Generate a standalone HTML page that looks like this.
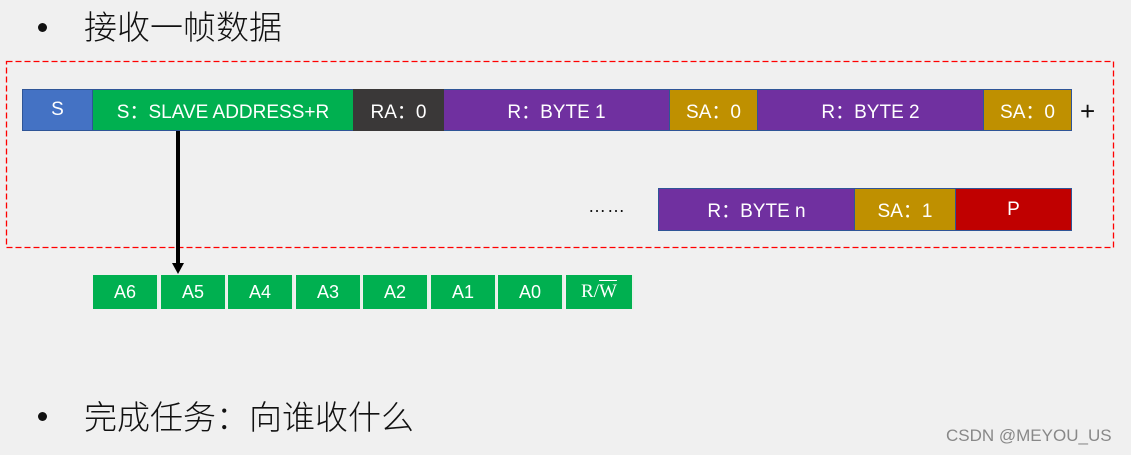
<!DOCTYPE html>
<html><head><meta charset="utf-8"><style>
body{margin:0;width:1131px;height:455px;background:#f0f0f0;position:relative;overflow:hidden;font-family:"Liberation Sans","Noto Sans CJK SC",sans-serif}
.a{position:absolute}
.b{position:absolute;color:#fff;font-size:19px;display:flex;align-items:center;justify-content:center;box-sizing:border-box}
.t{position:absolute;font-size:33px;color:#111;line-height:1;font-family:"Noto Sans CJK SC",sans-serif;font-weight:300}
.bit{position:absolute;top:275px;height:34px;width:66px;background:#00b050;color:#fff;font-size:18px;display:flex;align-items:center;justify-content:center;border-right:2px solid #e8f0e8;box-sizing:border-box}
</style></head><body>
<div class="a" style="left:38px;top:23px;width:9px;height:9px;border-radius:50%;background:#111"></div>
<div class="t" style="left:84px;top:9px">接收一帧数据</div>
<div class="a" style="left:38px;top:412px;width:9px;height:9px;border-radius:50%;background:#111"></div>
<div class="t" style="left:84px;top:399px">完成任务：向谁收什么</div>
<svg class="a" style="left:0;top:0" width="1131" height="455"><rect x="6.5" y="61.5" width="1107" height="186" fill="none" stroke="#ff0000" stroke-width="1.3" stroke-dasharray="6,3"/></svg>
<div class="a" style="left:22px;top:89px;width:1050px;height:42px;border:1px solid #2f5597;box-sizing:border-box"></div>
<div class="b" style="left:22px;top:89px;width:71px;height:42px;background:#4472c4;border:1px solid #2f5597">S</div>
<div class="b" style="left:93px;top:89px;width:260px;height:42px;background:#00b050;border-top:1px solid #2f5597;border-bottom:1px solid #2f5597">S：SLAVE ADDRESS+R</div>
<div class="b" style="left:353px;top:89px;width:91px;height:42px;background:#3a3838">RA：0</div>
<div class="b" style="left:444px;top:89px;width:225px;height:42px;background:#7030a0;border-top:1px solid #2f5597;border-bottom:1px solid #2f5597">R：BYTE 1</div>
<div class="b" style="left:669px;top:89px;width:89px;height:42px;background:#bf9000;border:1px solid #2f5597">SA：0</div>
<div class="b" style="left:758px;top:89px;width:225px;height:42px;background:#7030a0;border-top:1px solid #2f5597;border-bottom:1px solid #2f5597">R：BYTE 2</div>
<div class="b" style="left:983px;top:89px;width:89px;height:42px;background:#bf9000;border:1px solid #2f5597">SA：0</div>
<div class="a" style="left:1080px;top:96px;font-size:26px;color:#111">+</div>
<div class="a" style="left:588px;top:196px;font-size:18px;color:#111;letter-spacing:1px">……</div>
<div class="b" style="left:658px;top:188px;width:197px;height:43px;background:#7030a0;border:1px solid #2f5597">R：BYTE n</div>
<div class="b" style="left:855px;top:188px;width:100px;height:43px;background:#bf9000;border-top:1px solid #2f5597;border-bottom:1px solid #2f5597">SA：1</div>
<div class="b" style="left:955px;top:188px;width:117px;height:43px;background:#c00000;border:1px solid #2f5597">P</div>
<div class="a" style="left:176px;top:131px;width:4px;height:134px;background:#000"></div>
<div class="a" style="left:172px;top:263px;width:0;height:0;border-left:6px solid transparent;border-right:6px solid transparent;border-top:11px solid #000"></div>
<div class="bit" style="left:93px">A6</div>
<div class="bit" style="left:161px">A5</div>
<div class="bit" style="left:228px">A4</div>
<div class="bit" style="left:296px">A3</div>
<div class="bit" style="left:363px">A2</div>
<div class="bit" style="left:431px">A1</div>
<div class="bit" style="left:498px">A0</div>
<div class="bit" style="left:566px;width:68px;font-family:'Liberation Serif',serif;font-size:19px">R/<span style="text-decoration:overline">W</span></div>
<div class="a" style="left:946px;top:426px;font-size:17px;color:#888">CSDN @MEYOU_US</div>
</body></html>
